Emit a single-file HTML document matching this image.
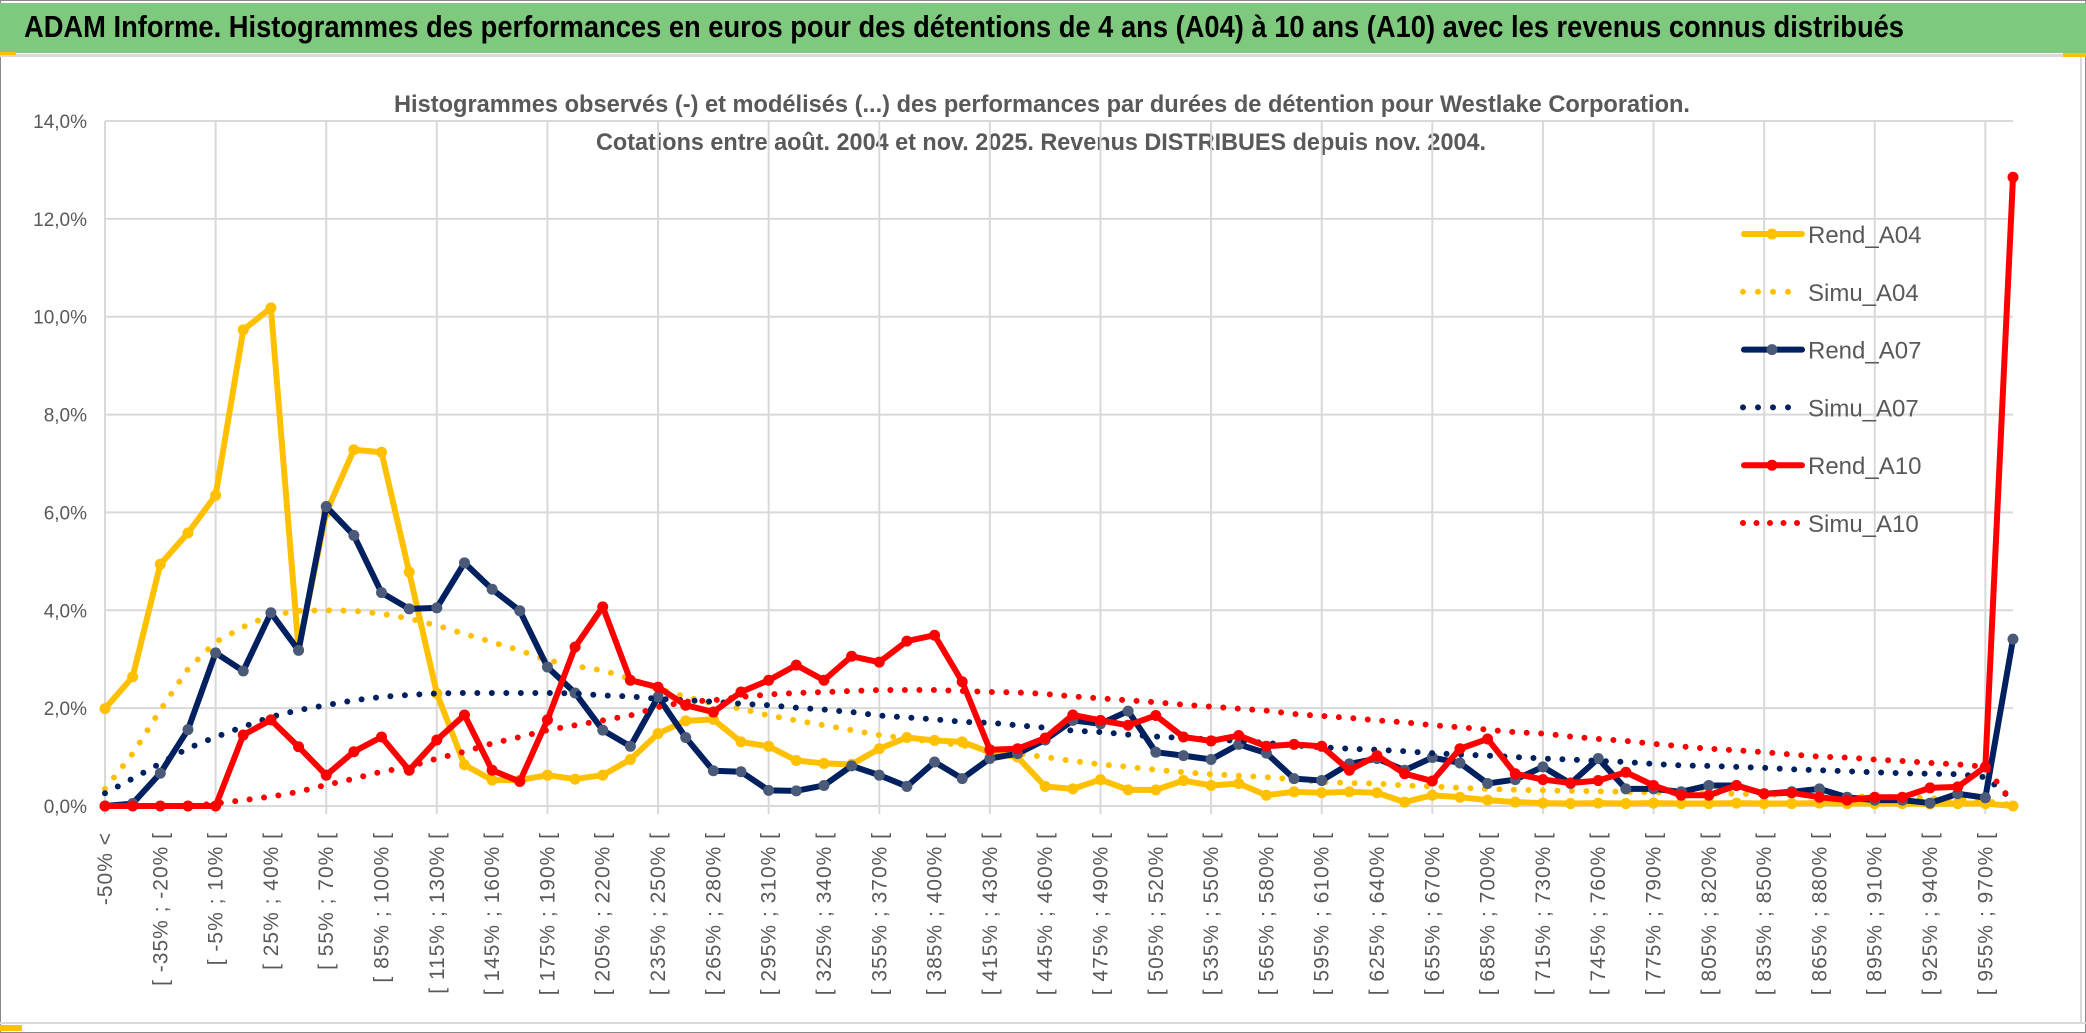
<!DOCTYPE html>
<html><head><meta charset="utf-8"><style>
html,body{margin:0;padding:0;background:#fff;}
svg{display:block;font-family:"Liberation Sans",sans-serif;}
</style></head><body>
<svg id="chart" width="2086" height="1033" viewBox="0 0 2086 1033" xmlns="http://www.w3.org/2000/svg">
<rect x="0" y="0" width="2086" height="1033" fill="#fff" stroke="#8a8a8a" stroke-width="2"/>
<rect x="0" y="3" width="2086" height="50" fill="#7ec97e"/>
<text x="24" y="37" font-size="31" font-weight="bold" fill="#000" textLength="1880" lengthAdjust="spacingAndGlyphs">ADAM Informe. Histogrammes des performances en euros pour des détentions de 4 ans (A04) à 10 ans (A10) avec les revenus connus distribués</text>
<rect x="0" y="54" width="2086" height="3" fill="#d9d9d9"/>
<rect x="0" y="52" width="16" height="3" fill="#ffc000"/>
<rect x="2063" y="53" width="23" height="4" fill="#ffc000"/>
<line x1="2081" y1="57" x2="2081" y2="1022" stroke="#d9d9d9" stroke-width="2"/>
<line x1="0" y1="1023" x2="2086" y2="1023" stroke="#d9d9d9" stroke-width="2"/>
<rect x="0" y="1025" width="22" height="6" fill="#ffc000"/>
<text x="1042" y="112" font-size="24" font-weight="bold" fill="#595959" text-anchor="middle" textLength="1296" lengthAdjust="spacingAndGlyphs">Histogrammes observés (-) et modélisés (...) des performances par durées de détention pour Westlake Corporation.</text>
<text x="1041" y="150" font-size="24" font-weight="bold" fill="#595959" text-anchor="middle" textLength="890" lengthAdjust="spacingAndGlyphs">Cotations entre août. 2004 et nov. 2025. Revenus DISTRIBUES depuis nov. 2004.</text>
<g id="grid"></g>
<g id="ylabels"></g>
<g id="xlabels"></g>
<g id="series"></g>
<g id="legend"></g>
</svg>
<script>
const yTicks = [0, 2, 4, 6, 8, 10, 12, 14];
const rendA04 = [1.99,2.64,4.94,5.58,6.35,9.73,10.18,3.2,6.0,7.28,7.23,4.78,2.3,0.84,0.53,0.53,0.63,0.55,0.63,0.95,1.48,1.74,1.77,1.31,1.22,0.93,0.87,0.85,1.17,1.40,1.34,1.31,1.1,1.0,0.4,0.35,0.54,0.33,0.33,0.52,0.42,0.46,0.22,0.29,0.27,0.29,0.27,0.08,0.22,0.18,0.12,0.08,0.06,0.05,0.06,0.05,0.06,0.05,0.05,0.06,0.05,0.05,0.06,0.05,0.05,0.05,0.04,0.05,0.05,0.0];
const simuA04 = [0.35,1.07,1.96,2.8,3.35,3.66,3.9,3.99,4.0,3.99,3.93,3.83,3.69,3.52,3.35,3.18,2.98,2.86,2.77,2.6,2.4,2.23,2.09,1.99,1.85,1.75,1.65,1.55,1.45,1.38,1.31,1.24,1.14,1.07,1.0,0.92,0.85,0.8,0.74,0.69,0.65,0.62,0.59,0.54,0.49,0.47,0.46,0.42,0.4,0.37,0.35,0.33,0.32,0.31,0.3,0.29,0.28,0.27,0.26,0.25,0.24,0.23,0.22,0.2,0.19,0.18,0.16,0.14,0.1,0.02];
const rendA07 = [0,0.05,0.67,1.56,3.13,2.76,3.95,3.18,6.12,5.53,4.36,4.03,4.05,4.97,4.43,3.99,2.84,2.31,1.55,1.22,2.23,1.40,0.72,0.70,0.32,0.31,0.42,0.82,0.63,0.40,0.90,0.56,0.97,1.07,1.35,1.75,1.68,1.94,1.10,1.03,0.95,1.26,1.08,0.56,0.52,0.86,0.97,0.73,0.99,0.88,0.46,0.54,0.8,0.46,0.97,0.35,0.35,0.29,0.42,0.42,0.25,0.29,0.35,0.18,0.12,0.12,0.06,0.25,0.17,3.41];
const simuA07 = [0.26,0.56,0.87,1.18,1.41,1.62,1.82,1.96,2.06,2.16,2.23,2.27,2.3,2.31,2.31,2.31,2.31,2.3,2.26,2.24,2.19,2.16,2.13,2.09,2.06,2.01,1.97,1.92,1.85,1.81,1.77,1.72,1.70,1.65,1.6,1.54,1.51,1.46,1.42,1.39,1.36,1.33,1.29,1.24,1.2,1.17,1.15,1.12,1.08,1.05,1.03,1.0,0.97,0.95,0.92,0.9,0.86,0.83,0.82,0.8,0.78,0.75,0.73,0.71,0.69,0.67,0.66,0.65,0.59,0.12];
const rendA10 = [0,0,0,0,0,1.45,1.76,1.21,0.63,1.11,1.41,0.73,1.35,1.86,0.73,0.5,1.76,3.25,4.07,2.57,2.43,2.06,1.92,2.33,2.57,2.88,2.57,3.06,2.94,3.37,3.49,2.54,1.15,1.17,1.39,1.86,1.75,1.65,1.85,1.41,1.33,1.44,1.22,1.26,1.22,0.73,1.03,0.66,0.51,1.17,1.37,0.66,0.54,0.47,0.52,0.69,0.42,0.22,0.22,0.42,0.25,0.27,0.18,0.12,0.18,0.18,0.37,0.39,0.8,12.85];
const simuA10 = [0,0,0,0,0.05,0.12,0.19,0.29,0.43,0.56,0.7,0.8,0.97,1.11,1.28,1.41,1.55,1.65,1.75,1.85,2.02,2.13,2.16,2.23,2.28,2.31,2.33,2.35,2.37,2.37,2.37,2.35,2.33,2.32,2.29,2.24,2.2,2.16,2.12,2.07,2.03,1.99,1.95,1.88,1.84,1.8,1.75,1.71,1.65,1.61,1.56,1.51,1.48,1.42,1.37,1.33,1.27,1.22,1.17,1.14,1.1,1.05,1.01,0.99,0.95,0.92,0.88,0.85,0.8,0.06];

const categories = [];
for (let i = 0; i < 70; i++) {
  if (i === 0) categories.push('-50% <');
  else if (i === 69) categories.push('985% <');
  else { const lo = -50 + (i - 1) * 15; categories.push('[ ' + lo + '% ; ' + (lo + 15) + '% ['); }
}

const NS = 'http://www.w3.org/2000/svg';
const X0 = 105, X1 = 2013, Y0 = 806, Y1 = 121, YMAX = 14;
const n = categories.length;
function xs(i) { return X0 + i * (X1 - X0) / (n - 1); }
function ys(v) { return Y0 - v / YMAX * (Y0 - Y1); }
function mk(tag, attrs, parent) {
  const e = document.createElementNS(NS, tag);
  for (const k in attrs) e.setAttribute(k, attrs[k]);
  parent.appendChild(e);
  return e;
}
const grid = document.getElementById('grid');
yTicks.forEach(t => {
  const l = mk('line', {x1: X0, x2: X1, y1: ys(t), y2: ys(t), stroke: '#d9d9d9', 'stroke-width': 2}, grid);
  
  
});
for (let i = 0; i < n; i += 4) {
  const l = mk('line', {x1: xs(i), x2: xs(i), y1: Y1, y2: Y0 + 8, stroke: '#d9d9d9', 'stroke-width': 2}, grid);
  
  
}
const yl = document.getElementById('ylabels');
yTicks.forEach(t => {
  const tx = mk('text', {x: 87, y: ys(t) + 7, 'font-size': 19, fill: '#595959', 'text-anchor': 'end'}, yl);
  tx.textContent = t.toFixed(1).replace('.', ',') + '%';
  
  
});
const xl = document.getElementById('xlabels');
for (let i = 0; i < n; i += 2) {
  const x = xs(i) + 7, y = 832;
  const tx = mk('text', {x: x, y: y, 'font-size': 21, fill: '#595959', 'text-anchor': 'end', 'letter-spacing': '1', transform: 'rotate(-90 ' + x + ' ' + y + ')'}, xl);
  tx.textContent = categories[i];
  
  
}
const sg = document.getElementById('series');
function solid(data, color, mcolor, name) {
  const g = mk('g', {}, sg);
  
  
  const pts = data.map((v, i) => xs(i) + ',' + ys(v)).join(' ');
  const pl = mk('polyline', {points: pts, fill: 'none', stroke: color, 'stroke-width': 6, 'stroke-linejoin': 'round', 'stroke-linecap': 'round'}, g);
  
  
  data.forEach((v, i) => {
    const c = mk('circle', {cx: xs(i), cy: ys(v), r: 5.5, fill: mcolor}, g);
    
    
  });
}
function dotted(data, color, name) {
  const pts = data.map((v, i) => xs(i) + ',' + ys(v)).join(' ');
  const pl = mk('polyline', {points: pts, fill: 'none', stroke: color, 'stroke-width': 6, 'stroke-linecap': 'round', 'stroke-dasharray': '0 14.5', 'stroke-linejoin': 'round'}, sg);
  
  
}
solid(rendA04, '#ffc000', '#ffc000', 'rend-a04-series');
dotted(simuA04, '#ffc000', 'simu-a04-series');
solid(rendA07, '#002060', '#4a5a78', 'rend-a07-series');
dotted(simuA07, '#002060', 'simu-a07-series');
solid(rendA10, '#ff0000', '#ff0000', 'rend-a10-series');
dotted(simuA10, '#ff0000', 'simu-a10-series');

const legendNames = ['Rend_A04', 'Simu_A04', 'Rend_A07', 'Simu_A07', 'Rend_A10', 'Simu_A10'];
const legendColors = ['#ffc000', '#ffc000', '#002060', '#002060', '#ff0000', '#ff0000'];
const lg = document.getElementById('legend');
legendNames.forEach((nm, k) => {
  const y = 234 + k * 57.8;
  const g = mk('g', {}, lg);
  
  
  if (k % 2 === 0) {
    mk('line', {x1: 1744, x2: 1802, y1: y, y2: y, stroke: legendColors[k], 'stroke-width': 6, 'stroke-linecap': 'round'}, g);
    mk('circle', {cx: 1772, cy: y, r: 5.5, fill: k === 2 ? '#4a5a78' : legendColors[k]}, g);
  } else {
    mk('line', {x1: 1743, x2: k === 5 ? 1801 : 1790, y1: y, y2: y, stroke: legendColors[k], 'stroke-width': 6, 'stroke-linecap': 'round', 'stroke-dasharray': k === 5 ? '0 13.5' : '0 15'}, g);
  }
  const t = mk('text', {x: 1808, y: y + 9, 'font-size': 24, fill: '#595959'}, g);
  t.textContent = nm;
});
</script>
</body></html>
